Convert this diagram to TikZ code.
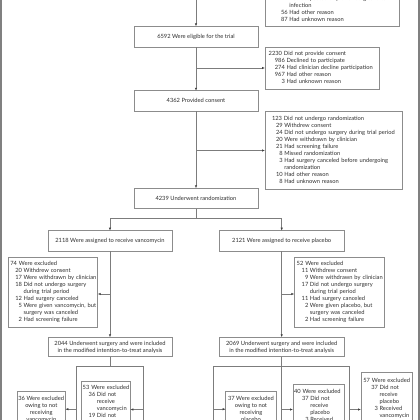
\documentclass[tikz,border=0pt]{standalone}
\usepackage{fontspec}
\setmainfont{Lato}
\usetikzlibrary{arrows.meta}
\definecolor{boxgray}{HTML}{8C8C8C}
\definecolor{txt}{HTML}{2E2E2E}
\definecolor{linegray}{HTML}{7C7C7C}
\definecolor{framegray}{HTML}{808080}
\newcommand\mylst[2]{\begin{tabular}{@{\hspace{#1pt}}r@{\hspace{1.6pt}}l@{}}#2\end{tabular}}
\newcommand\myhd[1]{\multicolumn{2}{@{}l@{}}{#1}}
\begin{document}
\begin{tikzpicture}[x=1pt,y=-1pt,
  box/.style={draw=boxgray,line width=0.7pt,fill=white,inner sep=0pt,outer sep=0pt,
    text=txt,font=\fontsize{5.75}{7}\selectfont},
  cbox/.style={box,align=center},
  conn/.style={draw=linegray,line width=0.7pt},
  arr/.style={conn,-{Latex[length=3pt,width=2.4pt,color=black!75]}}]
\useasboundingbox (0,0) rectangle (420,420);
\clip (0,0) rectangle (420,420);

% boxes
\node[box,align=left,minimum width=134pt,inner xsep=11pt,text width=112pt,minimum height=55pt] (topbox) at (332,-1)
  {\mylst{5}{&\\&\\&\\19&Had suspected or proven surgical-site\\&infection\\56&Had other reason\\87&Had unknown reason}};
\node[cbox,minimum width=124pt,minimum height=20.7pt] (elig) at (196,36.7) {6592 Were eligible for the trial};
\node[box,align=left,minimum width=114pt,inner xsep=3.7pt,text width=106.6pt,minimum height=42pt] (noconsent) at (322,68)
  {\mylst{6.2}{\myhd{2230 Did not provide consent}\\986&Declined to participate\\274&Had clinician decline participation\\967&Had other reason\\3&Had unknown reason}};
\node[cbox,minimum width=124pt,minimum height=20.3pt] (consent) at (196,100.9) {4362 Provided consent};
\node[box,align=left,minimum width=137.7pt,inner xsep=7pt,text width=123.7pt,minimum height=77.6pt] (norand) at (333.85,150.5)
  {\mylst{4}{\myhd{123 Did not undergo randomization}\\29&Withdrew consent\\24&Did not undergo surgery during trial period\\20&Were withdrawn by clinician\\21&Had screening failure\\8&Missed randomization\\3&Had surgery canceled before undergoing\\&randomization\\10&Had other reason\\8&Had unknown reason}};
\node[cbox,minimum width=124pt,minimum height=20.4pt] (rand) at (196,198.5) {4239 Underwent randomization};
\node[cbox,minimum width=124.3pt,minimum height=20.6pt] (vanc) at (110,241) {2118 Were assigned to receive vancomycin};
\node[cbox,minimum width=124.7pt,minimum height=20.6pt] (plac) at (281.7,241) {2121 Were assigned to receive placebo};
\node[box,align=left,minimum width=89.7pt,inner xsep=2.3pt,text width=85.1pt,minimum height=70pt] (exclV) at (52.85,292.3)
  {\mylst{5}{\myhd{74 Were excluded}\\20&Withdrew consent\\17&Were withdrawn by clinician\\18&Did not undergo surgery\\&during trial period\\12&Had surgery canceled\\5&Were given vancomycin, but\\&surgery was canceled\\2&Had screening failure}};
\node[box,align=left,minimum width=90pt,inner xsep=2.4pt,text width=85.2pt,minimum height=70pt] (exclP) at (339.3,292.3)
  {\mylst{5}{\myhd{52 Were excluded}\\11&Withdrew consent\\9&Were withdrawn by clinician\\17&Did not undergo surgery\\&during trial period\\11&Had surgery canceled\\2&Were given placebo, but\\&surgery was canceled\\2&Had screening failure}};
\node[cbox,minimum width=124.3pt,minimum height=19.4pt] (mittV) at (110,347) {2044 Underwent surgery and were included\\in the modified intention-to-treat analysis};
\node[cbox,minimum width=124.7pt,minimum height=19.4pt] (mittP) at (281.7,347) {2069 Underwent surgery and were included\\in the modified intention-to-treat analysis};
\node[cbox,minimum width=48pt,minimum height=36.6pt] (b1) at (41.3,409.2) {36 Were excluded\\owing to not\\receiving\\vancomycin};
\node[box,align=left,minimum width=49.3pt,inner xsep=1.7pt,text width=45.9pt,minimum height=57pt] (b2) at (105.65,409.5)
  {\mylst{6}{\myhd{53 Were excluded}\\36&Did not\\&receive\\&vancomycin\\19&Did not\\&\\&}};
\node[cbox,minimum width=50.6pt,minimum height=36.6pt] (b3) at (251,409.2) {37 Were excluded\\owing to not\\receiving\\placebo};
\node[box,align=left,minimum width=51pt,inner xsep=1pt,text width=49pt,minimum height=49.6pt] (b4) at (318.5,409.5)
  {\mylst{8}{\myhd{40 Were excluded}\\37&Did not\\&receive\\&placebo\\3&Received\\&}};
\node[box,align=left,minimum width=51pt,inner xsep=2.3pt,text width=46.4pt,minimum height=73.6pt] (b5) at (386.5,409.5)
  {\mylst{8}{\myhd{57 Were excluded}\\37&Did not\\&receive\\&placebo\\3&Received\\&vancomycin\\&\\&\\&}};

% connectors
\coordinate (topin) at (196,-5);
\draw[arr] (topin) -- (elig.north);
\draw[arr] (elig.south) -- (consent.north);
\draw[arr] (elig.south |- noconsent.west) -- (noconsent.west);
\draw[arr] (consent.south) -- (rand.north);
\draw[arr] (consent.south |- norand.west) -- (norand.west);
\coordinate (split) at (196,218.7);
\draw[conn] (rand.south) -- (split);
\draw[arr] (split) -| (vanc.north);
\draw[arr] (split) -| (plac.north);
\draw[arr] (vanc.south) -- (mittV.north);
\coordinate (ev) at (110,294);
\draw[arr] (ev) -- (ev -| exclV.east);
\draw[arr] (plac.south) -- (mittP.north);
\coordinate (ep) at (281.7,294);
\draw[arr] (ep) -- (ep -| exclP.west);
% bottom left
\coordinate (sv) at (110,366);
\coordinate (bl1) at (76,366);
\coordinate (bl2) at (143.3,366);
\draw[conn] (mittV.south) -- (sv);
\draw[conn] (bl1 |- b1.south) -- (bl1) -- (bl2) -- (bl2 |- b2.south);
\draw[arr] (bl1 |- b1.east) -- (b1.east);
\draw[arr] (bl2 |- b2.east) -- (b2.east);
% bottom right
\coordinate (br1) at (213.7,366);
\coordinate (br3) at (349.3,366);
\draw[conn] (mittP.south) -- (mittP.south |- b4.south);
\draw[conn] (br1 |- b3.south) -- (br1) -- (br3) -- (br3 |- b5.south);
\draw[arr] (br1 |- b3.west) -- (b3.west);
\draw[arr] (mittP.south |- b4.west) -- (b4.west);
\draw[arr] (br3 |- b5.west) -- (b5.west);

% frame edges
\draw[framegray,line width=1.2pt] (1,0) -- (1,420);
\draw[framegray,line width=1.2pt] (419,0) -- (419,420);
\end{tikzpicture}
\end{document}
